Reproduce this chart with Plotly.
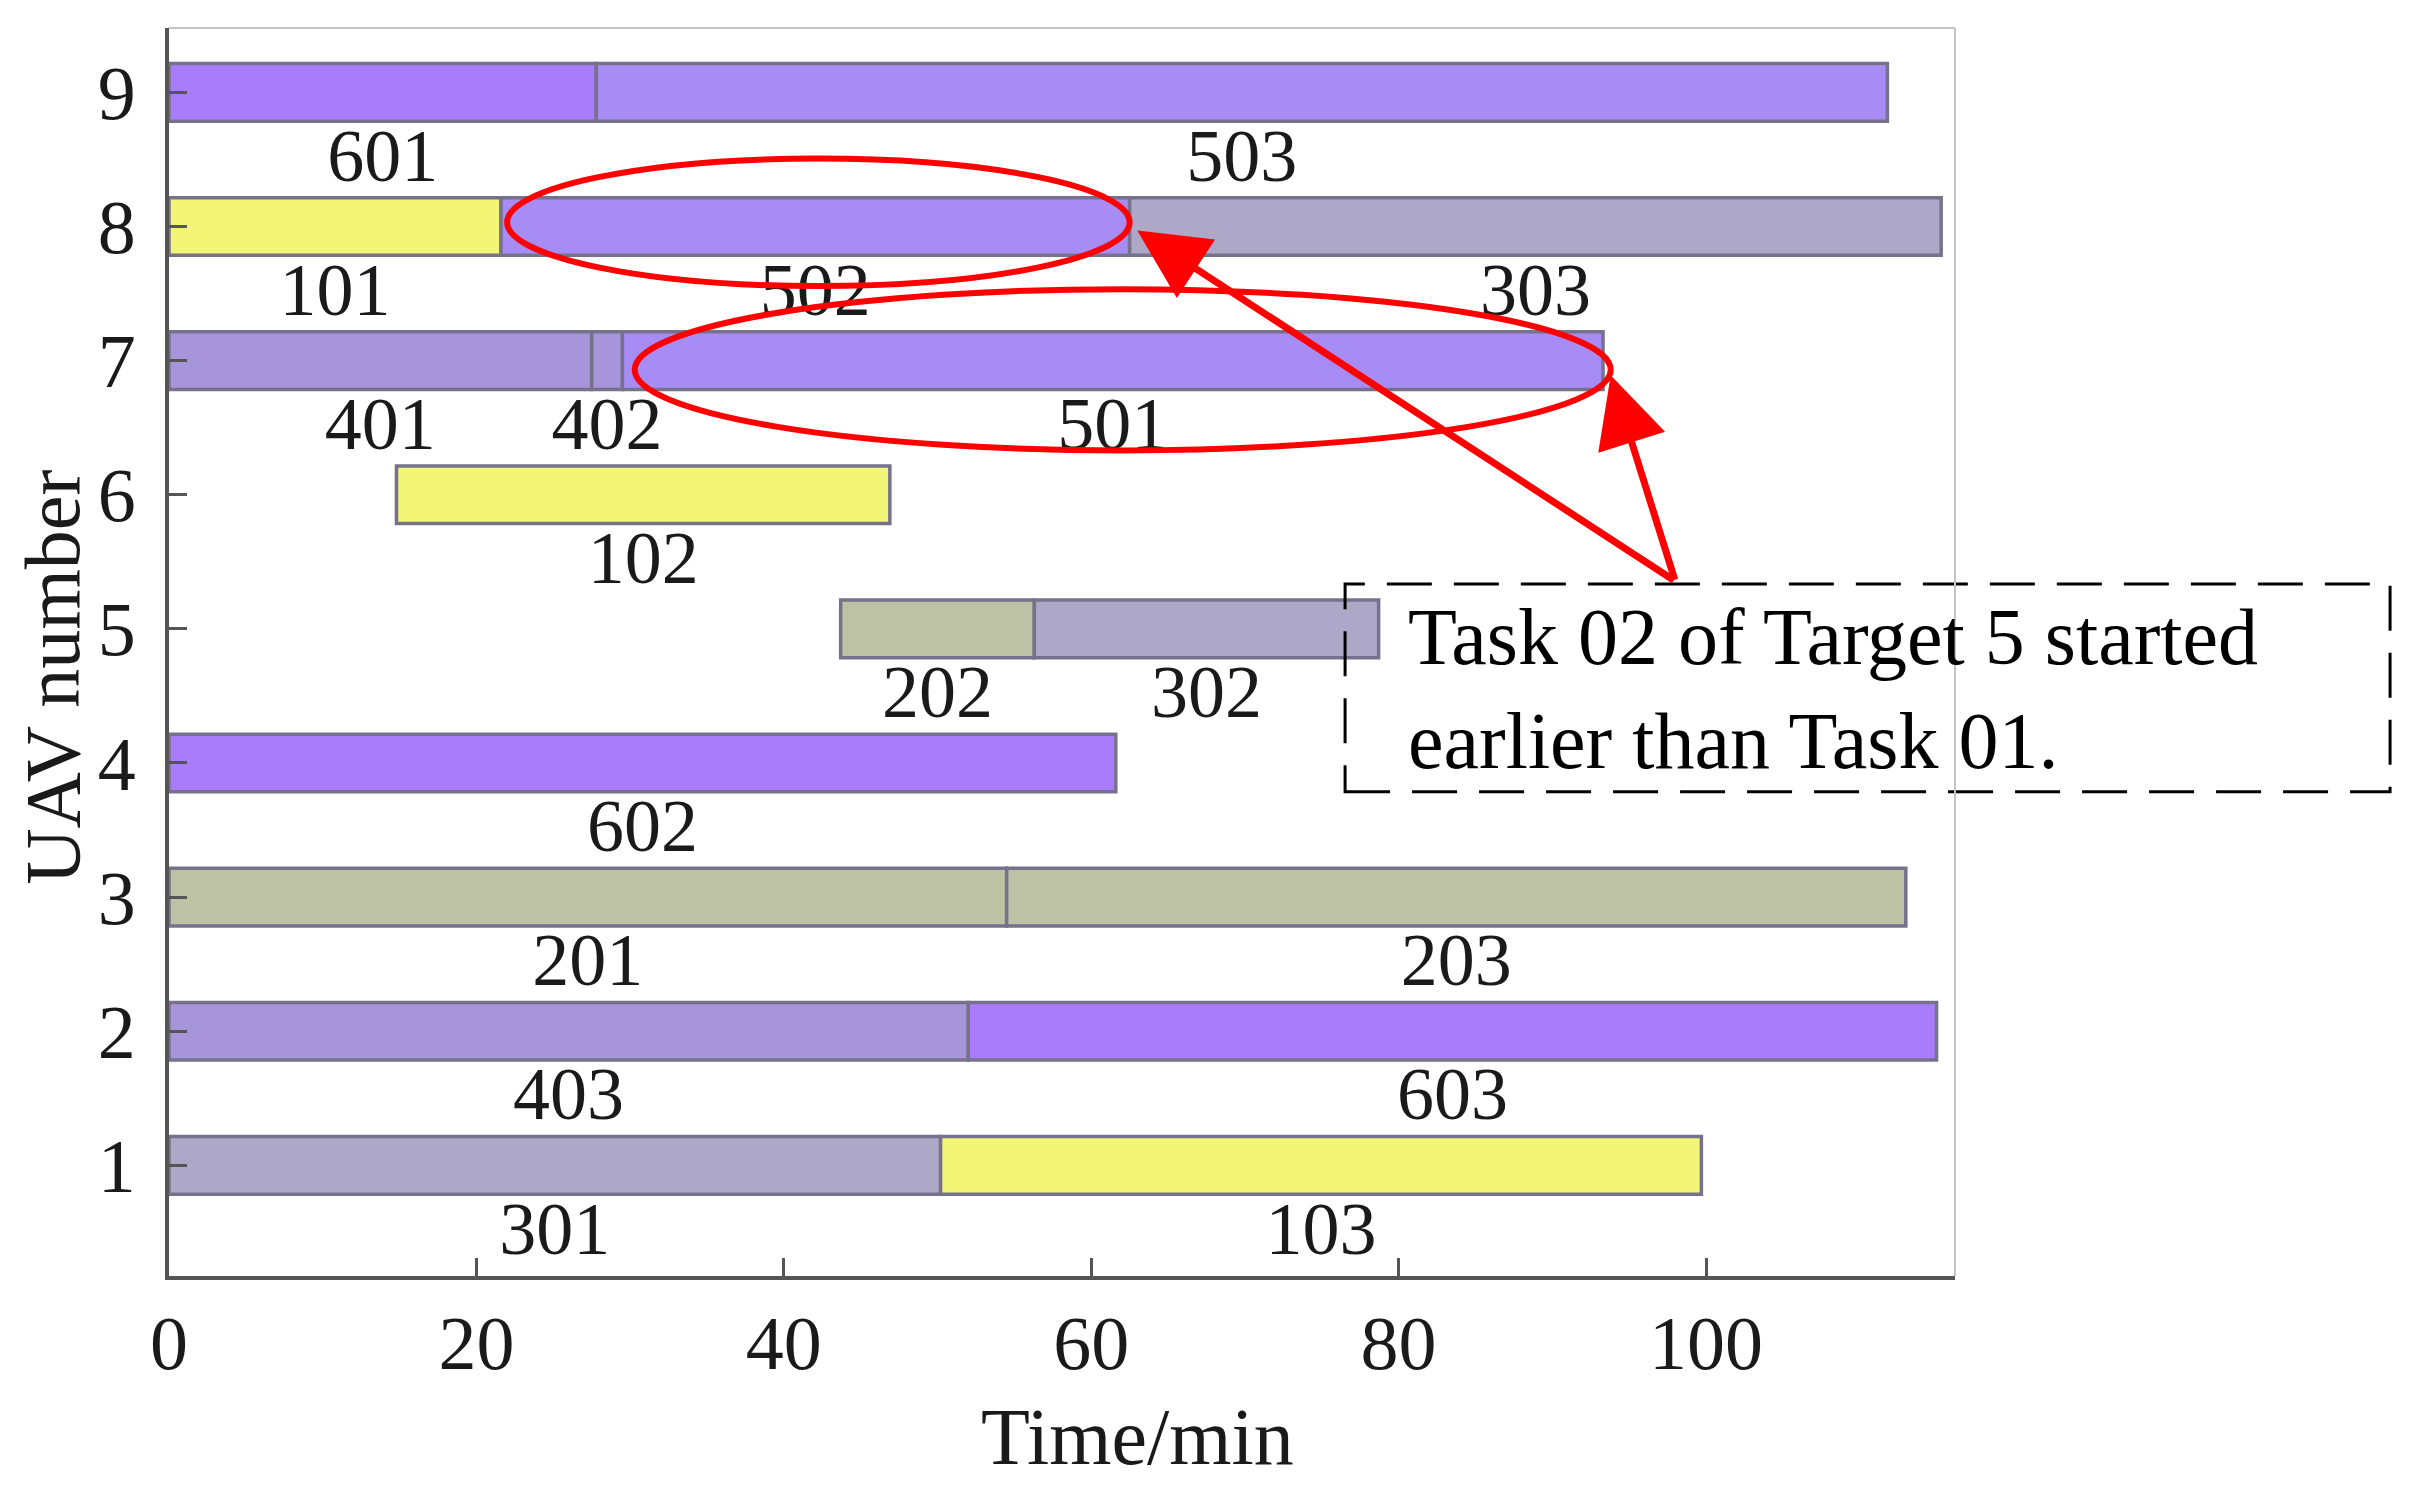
import plotly.graph_objects as go

# task schedule per UAV (minutes)
uav = [9, 9, 8, 8, 8, 7, 7, 7, 6, 5, 5, 4, 3, 3, 2, 2, 1, 1]
task = ["601", "503", "101", "502", "303", "401", "402", "501", "102",
        "202", "302", "602", "201", "203", "403", "603", "301", "103"]
start = [0, 27.8, 0, 21.6, 62.5, 0, 27.5, 29.5, 14.8,
         43.7, 56.3, 0, 0, 54.5, 0, 52.0, 0, 50.2]
end = [27.8, 111.8, 21.6, 62.5, 115.3, 27.5, 29.5, 93.3, 46.9,
       56.3, 78.7, 61.6, 54.5, 113.0, 52.0, 115.0, 50.2, 99.7]

# colour by target (first digit of the task id)
target_colors = {"1": "#f2f575", "2": "#bec2a4", "3": "#ada7c8",
                 "4": "#a795dc", "5": "#a88cf5", "6": "#a87cfa"}

x_ticks = [0, 20, 40, 60, 80, 100]
y_ticks = [1, 2, 3, 4, 5, 6, 7, 8, 9]

note = "Task 02 of Target 5 started<br>earlier than Task 01."

dur = [e - s for s, e in zip(start, end)]
colors = [target_colors[t[0]] for t in task]
mid = [(s + e) / 2 for s, e in zip(start, end)]

FONT = "Liberation Serif, Times New Roman, serif"

fig = go.Figure()
fig.add_trace(go.Bar(
    y=uav, x=dur, base=start, orientation="h", width=0.43,
    marker=dict(color=colors, line=dict(color="#77728c", width=3.5)),
    hoverinfo="skip", showlegend=False,
))
fig.add_trace(go.Scatter(
    x=mid, y=[u - 0.52 for u in uav], mode="text", text=task,
    textfont=dict(family=FONT, size=74, color="#1a1a1a"),
    hoverinfo="skip", showlegend=False,
))

# red ellipses around the tasks of target 5
fig.add_shape(type="circle", xref="x", yref="y", x0=22.0, x1=62.5, y0=7.556, y1=8.507,
              line=dict(color="#ff0000", width=6))
fig.add_shape(type="circle", xref="x", yref="y", x0=30.3, x1=93.8, y0=6.33, y1=7.533,
              line=dict(color="#ff0000", width=6))

# arrows from the note box
for tip in [(63.0, 7.97), (93.8, 6.89)]:
    fig.add_annotation(x=tip[0], y=tip[1], ax=98.0, ay=5.355, xref="x", yref="y",
                       axref="x", ayref="y", text="", showarrow=True,
                       arrowhead=2, arrowsize=2.0, arrowwidth=7, arrowcolor="#ff0000")

# dashed note box
fig.add_shape(type="rect", xref="paper", yref="paper", x0=0.6585, x1=1.2436,
              y0=0.388, y1=0.5545, line=dict(color="black", width=3, dash="45px,22px"))
fig.add_annotation(xref="paper", yref="paper", x=0.6926, y=0.470, text=note,
                   showarrow=False, xanchor="left", yanchor="middle", align="left",
                   font=dict(family=FONT, size=80, color="black"))

# frame: light top/right lines
fig.add_shape(type="line", xref="paper", yref="paper", x0=0, x1=1, y0=1, y1=1,
              line=dict(color="#c4c4c4", width=2))
fig.add_shape(type="line", xref="paper", yref="paper", x0=1, x1=1, y0=0, y1=1,
              line=dict(color="#c4c4c4", width=2))

# axis titles
fig.add_annotation(xref="paper", yref="paper", x=0.542, y=-0.129, text="Time/min",
                   showarrow=False, xanchor="center", yanchor="middle",
                   font=dict(family=FONT, size=80, color="#1a1a1a"))
fig.add_annotation(xref="paper", yref="paper", x=-0.065, y=0.48, text="UAV number",
                   showarrow=False, textangle=-90, xanchor="center", yanchor="middle",
                   font=dict(family=FONT, size=78, color="#1a1a1a"))

fig.update_xaxes(range=[0, 116.2], tickvals=x_ticks, ticks="inside", ticklen=18,
                 tickwidth=3, tickcolor="#555555", showline=True, linecolor="#555555",
                 linewidth=4, showgrid=False, zeroline=False, ticklabelstandoff=-2,
                 automargin=False,
                 tickfont=dict(family=FONT, size=76, color="#1a1a1a"))
fig.update_yaxes(range=[0.175, 9.48], tickvals=y_ticks, ticks="inside", ticklen=18,
                 tickwidth=3, tickcolor="#555555", showline=True, linecolor="#555555",
                 linewidth=4, showgrid=False, zeroline=False, ticklabelstandoff=14,
                 automargin=False,
                 tickfont=dict(family=FONT, size=76, color="#1a1a1a"))

fig.update_layout(
    width=2410, height=1489,
    margin=dict(l=161, r=463, t=20, b=221),
    plot_bgcolor="white", paper_bgcolor="white",
    barmode="overlay",
)

fig.write_html("out.html")
